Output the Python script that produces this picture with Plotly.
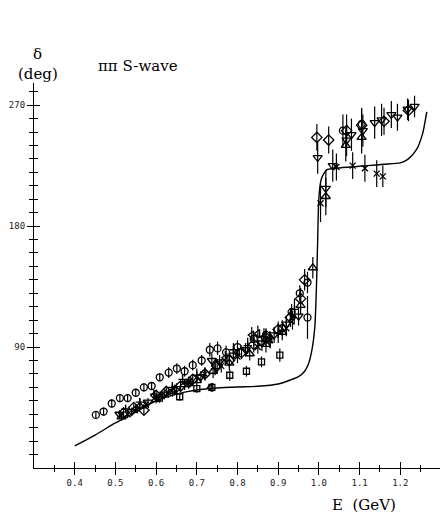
import plotly.graph_objects as go

# ---- model curve ----
curve_E = [0.40, 0.45, 0.50, 0.55, 0.60, 0.65, 0.70, 0.75, 0.80, 0.85, 0.90, 0.93, 0.95,
           0.965, 0.975, 0.983, 0.99, 0.994, 0.997, 0.999, 1.002, 1.006, 1.012, 1.02,
           1.04, 1.08, 1.12, 1.16, 1.20, 1.22, 1.24, 1.255, 1.265]
curve_d = [16.4, 24.5, 33.5, 41.6, 50, 55, 58, 59.5, 60.3, 60.8, 62.5, 65.5, 68,
           72, 78, 88, 105, 135, 170, 195, 208, 215, 219, 222,
           223, 224, 225, 226, 227, 230, 237, 249, 265]

# ---- data points by symbol ----
circ_E = [0.452, 0.471, 0.491, 0.511, 0.530, 0.550, 0.570, 0.589, 0.609, 0.631, 0.651,
          0.670, 0.690, 0.712, 0.732, 0.751, 0.772, 0.80, 0.84, 0.87, 0.91, 0.933,
          0.953, 0.972, 0.972, 1.059, 1.105]
circ_d = [39.5, 42, 48, 52, 52, 56, 60, 61, 67.5, 71, 74,
          72, 76.5, 80, 88, 89, 86, 90, 96, 99, 104, 116,
          130, 138, 112, 251, 256]
circ_err = [3, 3, 3, 3, 3, 3, 3, 3, 3, 4, 4,
            4, 4, 4, 5, 5, 5, 5, 5, 5, 6, 6,
            6, 8, 16, 12, 12]

dia_E = [0.52, 0.545, 0.57, 0.60, 0.625, 0.66, 0.69, 0.72, 0.75, 0.78, 0.81, 0.84, 0.87,
         0.90, 0.93, 0.955, 0.965, 0.995, 1.024, 1.068, 1.105, 1.16, 1.22]
dia_d = [41, 45, 43, 54, 57, 61, 66, 70, 76, 80, 86, 92, 97,
         103, 112, 126, 140, 246, 244, 251, 255, 258, 266]
dia_err = [3, 3, 3, 4, 4, 4, 4, 5, 5, 5, 5, 6, 6,
           6, 7, 8, 8, 10, 10, 12, 12, 10, 8]

tdn_E = [0.51, 0.54, 0.58, 0.62, 0.65, 0.68, 0.71, 0.737, 0.756, 0.79, 0.82, 0.86, 0.89,
         0.92, 0.95, 0.997, 1.017, 1.034, 1.068, 1.08, 1.108, 1.137, 1.154, 1.178, 1.193,
         1.218, 1.235]
tdn_d = [40, 42, 49, 55, 59, 63, 68, 80, 79, 84, 88, 93, 99,
         107, 113, 231, 208, 225, 244, 248, 251, 257, 259, 263, 261,
         267, 269]
tdn_err = [3, 3, 3, 4, 4, 4, 4, 5, 5, 5, 5, 6, 6,
           6, 7, 12, 14, 12, 12, 12, 12, 12, 12, 10, 10,
           8, 8]

tup_E = [0.515, 0.56, 0.60, 0.64, 0.67, 0.70, 0.74, 0.78, 0.83, 0.87, 0.91, 0.955,
         0.985, 1.017, 1.066, 1.105]
tup_d = [38, 46, 51, 57, 62, 65, 72, 78, 85, 92, 101, 121,
         149, 202, 240, 246]
tup_err = [3, 3, 3, 4, 4, 4, 5, 5, 5, 6, 6, 7,
           8, 14, 12, 12]

tlf_E = [0.55, 0.605, 0.645, 0.685, 0.735, 0.77, 0.80, 0.835, 0.85, 0.88, 0.935]
tlf_d = [44, 52, 58, 64, 60, 82, 86, 99, 100, 96, 110]
tlf_err = [3, 3, 4, 4, 3, 5, 5, 6, 6, 6, 7]

sq_E = [0.658, 0.70, 0.737, 0.781, 0.822, 0.859, 0.904]
sq_d = [53, 59, 60, 69, 72, 79, 84]
sq_err = [3, 3, 3, 4, 4, 4, 5]

x_E = [0.53, 0.575, 0.63, 0.68, 0.72, 0.76, 0.80, 0.85, 0.88, 0.92,
       1.004, 1.043, 1.083, 1.113, 1.142, 1.157]
x_d = [40, 47, 56, 64, 70, 76, 83, 90, 95, 104,
       197, 224, 225, 223, 219, 217]
x_err = [3, 3, 4, 4, 4, 5, 5, 5, 6, 6,
         14, 10, 10, 10, 10, 8]

cr_E = [0.525, 0.56, 0.595, 0.615, 0.64, 0.665, 0.70, 0.745, 0.79, 0.825, 0.865, 0.90, 0.94]
cr_d = [44, 49, 55, 53, 60, 66, 69, 74, 88, 91, 98, 100, 118]
cr_err = [3, 3, 3, 4, 4, 4, 5, 5, 5, 6, 6, 7, 8]

# ---- axis ticks ----
x_major = [0.4, 0.5, 0.6, 0.7, 0.8, 0.9, 1.0, 1.1, 1.2]
x_major_text = ["0.4", "0.5", "0.6", "0.7", "0.8", "0.9", "1.0", "1.1", "1.2"]
x_minor = [0.35, 0.45, 0.55, 0.65, 0.75, 0.85, 0.95, 1.05, 1.15, 1.25]
y_major = [90, 180, 270]
y_minor = [10, 20, 30, 40, 50, 60, 70, 80, 100, 110, 120, 130, 140, 150, 160, 170,
           190, 200, 210, 220, 230, 240, 250, 260, 280]

W, H = 440, 519
ML, MR, MT, MB = 34, 0, 83, 51
X_RANGE = [0.30, 0.30 + (W - ML - MR) / 407.0]
Y_RANGE = [0, (H - MT - MB) / 1.344]

fig = go.Figure()

fig.add_trace(go.Scatter(x=curve_E, y=curve_d, mode="lines",
                         line=dict(color="black", width=1.4, shape="spline", smoothing=0.6),
                         hoverinfo="skip", showlegend=False))


def add_pts(xs, ys, errs, symbol, size=7):
    fig.add_trace(go.Scatter(
        x=xs, y=ys, mode="markers",
        marker=dict(symbol=symbol, size=size, color="black",
                    line=dict(color="black", width=1.3)),
        error_y=dict(type="data", array=errs, visible=True, color="black",
                     thickness=1.2, width=0),
        showlegend=False))


add_pts(circ_E, circ_d, circ_err, "circle-open", 7)
add_pts(dia_E, dia_d, dia_err, "diamond-open", 8)
add_pts(tdn_E, tdn_d, tdn_err, "triangle-down-open", 8)
add_pts(tup_E, tup_d, tup_err, "triangle-up-open", 8)
add_pts(tlf_E, tlf_d, tlf_err, "triangle-left-open", 7)
add_pts(sq_E, sq_d, sq_err, "square-open", 6)
add_pts(x_E, x_d, x_err, "x-thin-open", 6)
add_pts(cr_E, cr_d, cr_err, "cross-thin-open", 6)

# invisible trace to realise the overlaid axes used for inward tick halves
fig.add_trace(go.Scatter(x=[X_RANGE[0]], y=[Y_RANGE[0]], xaxis="x2", yaxis="y2",
                         mode="markers", marker=dict(opacity=0), hoverinfo="skip",
                         showlegend=False))

tickfont = dict(family="DejaVu Sans Mono", size=9, color="#222")

fig.update_layout(
    width=W, height=H,
    margin=dict(l=ML, r=MR, t=MT, b=MB),
    paper_bgcolor="white", plot_bgcolor="white",
    showlegend=False,
    xaxis=dict(range=X_RANGE, showgrid=False, zeroline=False, showline=True,
               linecolor="black", linewidth=1.2,
               tickmode="array", tickvals=x_major, ticktext=x_major_text,
               ticks="outside", ticklen=6, tickwidth=1.2, tickcolor="black",
               tickfont=tickfont,
               minor=dict(tickmode="array", tickvals=x_minor, ticks="outside",
                          ticklen=3, tickwidth=1, tickcolor="black")),
    yaxis=dict(range=Y_RANGE, showgrid=False, zeroline=False, showline=True,
               linecolor="black", linewidth=1.2,
               tickmode="array", tickvals=y_major,
               ticks="outside", ticklen=6, tickwidth=1.2, tickcolor="black",
               tickfont=tickfont,
               minor=dict(tickmode="array", tickvals=y_minor, ticks="outside",
                          ticklen=4, tickwidth=1, tickcolor="black")),
    xaxis2=dict(range=X_RANGE, overlaying="x", anchor="y2", showgrid=False,
                zeroline=False, showline=False, showticklabels=False,
                tickmode="array", tickvals=x_major,
                ticks="inside", ticklen=6, tickwidth=1.2, tickcolor="black",
                minor=dict(tickmode="array", tickvals=x_minor, ticks="inside",
                           ticklen=3, tickwidth=1, tickcolor="black")),
    yaxis2=dict(range=Y_RANGE, overlaying="y", anchor="x2", showgrid=False,
                zeroline=False, showline=False, showticklabels=False,
                tickmode="array", tickvals=y_major,
                ticks="inside", ticklen=6, tickwidth=1.2, tickcolor="black",
                minor=dict(tickmode="array", tickvals=y_minor, ticks="inside",
                           ticklen=4, tickwidth=1, tickcolor="black")),
)


def px_to_paper(px, py):
    return (px - ML) / (W - ML - MR), (H - MB - py) / (H - MT - MB)


for txt, px, py, anchor, size in [("δ", 37, 54, "center", 15),
                                  ("(deg)", 38, 74, "center", 15),
                                  ("ππ S-wave", 96, 66, "left", 15),
                                  ("E  (GeV)", 330, 505, "left", 15)]:
    xp, yp = px_to_paper(px, py)
    fig.add_annotation(x=xp, y=yp, xref="paper", yref="paper", text=txt.replace("  ", "&nbsp;&nbsp;"),
                       showarrow=False, xanchor=anchor, yanchor="middle",
                       font=dict(family="DejaVu Serif", size=size, color="black"))

fig.write_html("out.html")
